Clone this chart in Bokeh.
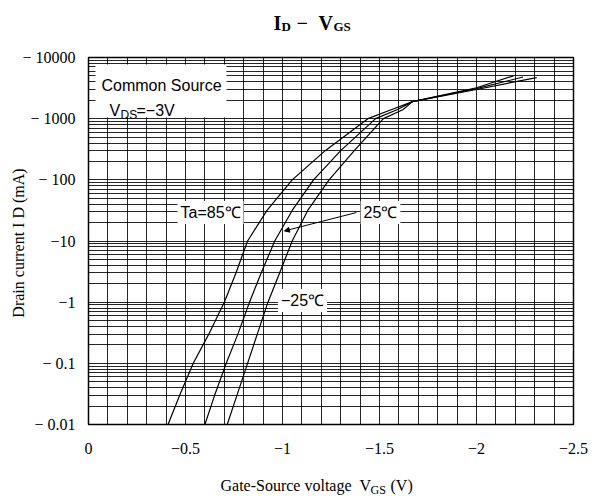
from bokeh.plotting import figure
from bokeh.layouts import column
from bokeh.models import Range1d, FixedTicker, Label, Arrow, NormalHead
from bokeh.embed import file_html
from bokeh.resources import INLINE

# ---------------- data ----------------
vgs_85 = [-0.41, -0.47, -0.54, -0.62, -0.70, -0.76, -0.82, -0.92, -1.05, -1.22, -1.44, -1.56, -1.67, -2.0, -2.31]
id_85 = [0.01, 0.03, 0.1, 0.3, 1, 3, 10, 31.6, 100, 300, 1000, 1400, 1900, 3000, 4700]

vgs_25 = [-0.60, -0.65, -0.71, -0.77, -0.83, -0.89, -0.96, -1.05, -1.16, -1.30, -1.48, -1.59, -1.67, -2.0, -2.24]
id_25 = [0.01, 0.03, 0.1, 0.3, 1, 3, 10, 31.6, 100, 300, 1000, 1400, 1900, 3100, 4800]

vgs_m25 = [-0.715, -0.765, -0.82, -0.87, -0.925, -0.985, -1.05, -1.13, -1.24, -1.37, -1.52, -1.62, -1.67, -2.0, -2.19]
id_m25 = [0.01, 0.03, 0.1, 0.3, 1, 3, 10, 31.6, 100, 300, 1000, 1400, 1900, 3200, 5000]

x_ticks = [0, -0.5, -1, -1.5, -2, -2.5]
x_tick_labels = ["0", "\u22120.5", "\u22121", "\u22121.5", "\u22122", "\u22122.5"]
y_ticks = [0.01, 0.1, 1, 10, 100, 1000, 10000]
y_tick_labels = ["\u2212 0.01", "\u2212 0.1", "\u22121", "\u221210", "\u2212 100", "\u2212 1000", "\u2212 10000"]

SERIF = "Liberation Serif"
SANS = "Liberation Sans"
W = 597
TOP_H, MAIN_H, BOT_H = 40, 420, 39
BL, BR = 88, 24  # left / right borders shared by all stacked figures

# ---------------- main chart ----------------
p = figure(width=W, height=MAIN_H, x_range=Range1d(0, -2.5), y_range=Range1d(0.01, 10000),
           y_axis_type="log", output_backend="svg", toolbar_location=None,
           min_border_left=BL, min_border_right=BR, min_border_top=17, min_border_bottom=36)
p.title.visible = False
p.background_fill_color = "white"
p.border_fill_color = "white"
p.outline_line_color = "black"
p.outline_line_width = 1.5

p.xaxis.ticker = FixedTicker(ticks=x_ticks)
p.xaxis.major_label_overrides = {t: l for t, l in zip(x_ticks, x_tick_labels)}
p.yaxis.ticker = FixedTicker(ticks=y_ticks)
p.yaxis.major_label_overrides = {t: l for t, l in zip(y_ticks, y_tick_labels)}
for ax in (p.xaxis, p.yaxis):
    ax.axis_line_color = None
    ax.major_tick_line_color = None
    ax.minor_tick_line_color = None
    ax.major_tick_out = 0
    ax.major_tick_in = 0
    ax.major_label_text_font = SERIF
    ax.major_label_text_font_size = "16px"
    ax.major_label_text_color = "black"
p.xaxis.major_label_standoff = 18
p.yaxis.major_label_standoff = 13
p.yaxis.axis_label = "Drain current  I D (mA)"
p.yaxis.axis_label_text_font = SERIF
p.yaxis.axis_label_text_font_size = "16px"
p.yaxis.axis_label_text_font_style = "normal"
p.yaxis.axis_label_text_color = "black"
p.yaxis.axis_label_standoff = -8

p.xgrid.ticker = FixedTicker(ticks=[round(-0.1 * i, 1) for i in range(26)])
p.xgrid.grid_line_color = "black"
p.xgrid.grid_line_alpha = 0.85
minor_y = [m * 10.0 ** e for e in range(-2, 4) for m in range(2, 10)]
p.ygrid.ticker = FixedTicker(ticks=y_ticks, minor_ticks=minor_y)
p.ygrid.grid_line_color = "black"
p.ygrid.grid_line_alpha = 0.85
p.ygrid.minor_grid_line_color = "black"
p.ygrid.minor_grid_line_alpha = 0.85

# white box behind the condition note
p.quad(left=[-0.036], right=[-0.711], top=[7700], bottom=[1045], fill_color="white", line_color=None)

for xs, ys in ((vgs_85, id_85), (vgs_25, id_25), (vgs_m25, id_m25)):
    p.line(xs, ys, line_color="black", line_width=1.2)

def lab(x, y, text):
    p.add_layout(Label(x=x, y=y, text=text, text_font=SANS, text_font_size="16px", text_color="black",
                       text_align="center", text_baseline="middle", background_fill_color="white", padding=3))

lab(-0.629, 29.2, "Ta=85\u2103")
lab(-1.505, 29.2, "25\u2103")
lab(-1.103, 1.06, "\u221225\u2103")
p.add_layout(Arrow(x_start=-1.381, y_start=29.2, x_end=-1.010, y_end=14.6, line_color="black", line_width=1,
                   end=NormalHead(size=5, fill_color="black", line_color="black")))

# condition note (screen units relative to frame; frame at canvas x=88, bottom y=424)
FL, FB = 88, 424
def ftext(X, Y, text, size="16px"):
    p.add_layout(Label(x=X - FL, y=FB - Y, x_units="screen", y_units="screen", text=text,
                       text_font=SANS, text_font_size=size, text_color="black", text_baseline="alphabetic"))

ftext(101, 85, "Common Source")
ftext(109, 110, "V")
ftext(120, 114, "DS", size="12px")
ftext(136, 110, "=\u22123V")

# ---------------- helper strips for title and x-axis title ----------------
def strip(h, y0):
    f = figure(width=W, height=h, x_range=Range1d(BL, W - BR), y_range=Range1d(y0 + h, y0),
               x_axis_type=None, y_axis_type=None, output_backend="svg", toolbar_location=None,
               min_border_left=BL, min_border_right=BR, min_border_top=0, min_border_bottom=0)
    f.title.visible = False
    f.outline_line_color = None
    f.background_fill_color = "white"
    f.border_fill_color = "white"
    return f

def stext(f, X, Y, text, size="16px", style="normal"):
    f.add_layout(Label(x=X, y=Y, text=text, text_font=SERIF, text_font_size=size, text_font_style=style,
                       text_color="black", text_align="left", text_baseline="alphabetic"))

top = strip(TOP_H, 0)
stext(top, 273, 22, "I", "20px", "bold")
stext(top, 281, 26, "D", "13px", "bold")
stext(top, 296, 22, "\u2212", "20px", "bold")
stext(top, 318, 22, "V", "20px", "bold")
stext(top, 333, 26, "GS", "13px", "bold")

bot = strip(BOT_H, TOP_H + MAIN_H)
stext(bot, 220, 485, "Gate-Source voltage")
stext(bot, 359, 485, "V")
stext(bot, 370, 489, "GS", "12px")
stext(bot, 390, 485, "(V)")

layout = column(top, p, bot, spacing=0)
open("out.html", "w").write(file_html(layout, INLINE))
